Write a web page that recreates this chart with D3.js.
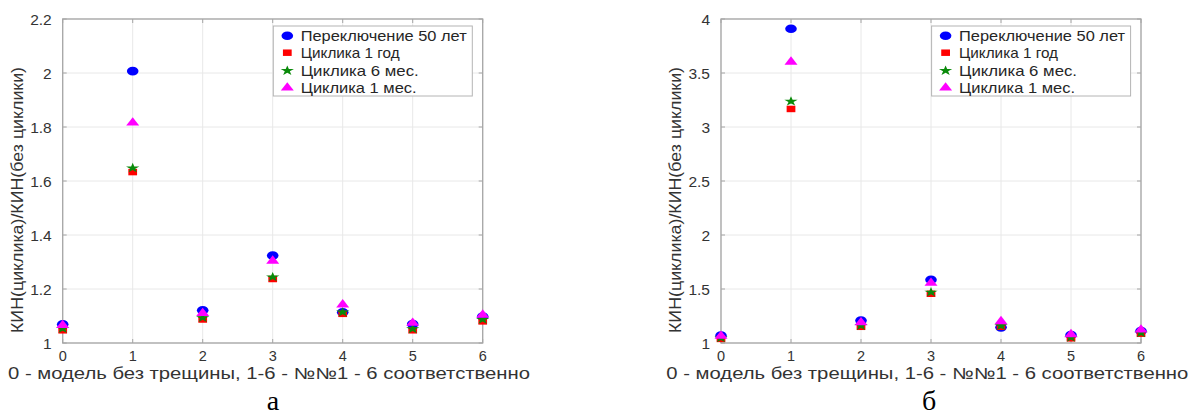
<!DOCTYPE html>
<html>
<head>
<meta charset="utf-8">
<script src="https://cdn.jsdelivr.net/npm/d3@7"></script>
<style>
  html, body { margin: 0; padding: 0; background: #fff; }
  svg { display: block; }
  text { font-family: "Liberation Sans", Arial, sans-serif; }
</style>
</head>
<body>
<svg id="chart" width="1193" height="419"></svg>
<script>
// ---------- data ----------
const categories = [0, 1, 2, 3, 4, 5, 6];
const seriesNames = ["Переключение 50 лет", "Циклика 1 год", "Циклика 6 мес.", "Циклика 1 мес."];
const xTickLabels = ["0", "1", "2", "3", "4", "5", "6"];
const yTicksA = [1, 1.2, 1.4, 1.6, 1.8, 2, 2.2];
const yTickLabelsA = ["1", "1.2", "1.4", "1.6", "1.8", "2", "2.2"];
const yTicksB = [1, 1.5, 2, 2.5, 3, 3.5, 4];
const yTickLabelsB = ["1", "1.5", "2", "2.5", "3", "3.5", "4"];

// panel а
const switchA = [1.069, 2.007, 1.121, 1.324, 1.114, 1.070, 1.098];
const year1A  = [1.047, 1.633, 1.087, 1.237, 1.108, 1.047, 1.080];
const m6A     = [1.053, 1.648, 1.093, 1.244, 1.114, 1.052, 1.087];
const m1A     = [1.066, 1.816, 1.110, 1.304, 1.142, 1.074, 1.104];
// panel б
const switchB = [1.068, 3.910, 1.209, 1.586, 1.145, 1.074, 1.111];
const year1B  = [1.038, 3.167, 1.150, 1.456, 1.150, 1.043, 1.086];
const m6B     = [1.045, 3.237, 1.160, 1.470, 1.158, 1.050, 1.093];
const m1B     = [1.065, 3.603, 1.190, 1.556, 1.200, 1.080, 1.123];

const xLabel = "0 - модель без трещины, 1-6 - №№1 - 6 соответственно";
const yLabel = "КИН(циклика)/КИН(без циклики)";
const panelLabels = ["а", "б"];

// ---------- styles ----------
const colors = ["#0000ff", "#ff0000", "#0a8a0a", "#ff00ff"];
const symbols = [
  d3.symbol().type(d3.symbolCircle).size(58)(),
  d3.symbol().type(d3.symbolSquare).size(42)(),
  d3.symbol().type(d3.symbolStar).size(30)(),
  d3.symbol().type(d3.symbolTriangle).size(40)()
];
const legendWidths = [166, 99, 118, 116];

const svg = d3.select("#chart");

function drawPanel(cfg) {
  const x = d3.scaleLinear().domain([0, 6]).range([cfg.x0, cfg.x0 + 420]);
  const y = d3.scaleLinear().domain(cfg.yDomain).range([343, 19]);
  const g = svg.append("g");
  const [xl, xr] = x.range();
  const [yb, yt] = y.range();

  // grid
  g.append("g").selectAll("line").data(categories).join("line")
    .attr("x1", d => x(d)).attr("x2", d => x(d)).attr("y1", yb).attr("y2", yt)
    .attr("stroke", "#e8e8e8").attr("stroke-width", 1);
  g.append("g").selectAll("line").data(cfg.yTicks).join("line")
    .attr("x1", xl).attr("x2", xr).attr("y1", d => y(d)).attr("y2", d => y(d))
    .attr("stroke", "#e8e8e8").attr("stroke-width", 1);

  // box
  g.append("rect").attr("x", xl).attr("y", yt).attr("width", xr - xl).attr("height", yb - yt)
    .attr("fill", "none").attr("stroke", "#a6a6a6").attr("stroke-width", 1.3);

  // tick marks (inward, all four sides)
  const tl = 4;
  const tg = g.append("g").attr("stroke", "#a6a6a6").attr("stroke-width", 1);
  categories.forEach(d => {
    tg.append("line").attr("x1", x(d)).attr("x2", x(d)).attr("y1", yb).attr("y2", yb - tl);
    tg.append("line").attr("x1", x(d)).attr("x2", x(d)).attr("y1", yt).attr("y2", yt + tl);
  });
  cfg.yTicks.forEach(d => {
    tg.append("line").attr("x1", xl).attr("x2", xl + tl).attr("y1", y(d)).attr("y2", y(d));
    tg.append("line").attr("x1", xr).attr("x2", xr - tl).attr("y1", y(d)).attr("y2", y(d));
  });

  // tick labels
  g.append("g").selectAll("text").data(categories).join("text")
    .attr("x", d => x(d)).attr("y", 360.5)
    .attr("text-anchor", "middle").attr("font-size", 14.5).attr("fill", "#333")
    .text((d, i) => xTickLabels[i]);
  g.append("g").selectAll("text").data(cfg.yTicks).join("text")
    .attr("x", xl - 11).attr("y", d => y(d) + 5.5)
    .attr("text-anchor", "end").attr("font-size", 15.5).attr("fill", "#333")
    .text((d, i) => cfg.yTickLabels[i]);

  // axis labels
  g.append("text").attr("x", xl - 54.7).attr("y", 378.5)
    .attr("font-size", 16).attr("fill", "#333")
    .attr("textLength", 522).attr("lengthAdjust", "spacingAndGlyphs")
    .text(xLabel);
  g.append("text")
    .attr("transform", `translate(${xl - 40},${200}) rotate(-90)`)
    .attr("text-anchor", "middle").attr("font-size", 16.5).attr("fill", "#333")
    .attr("textLength", 266).attr("lengthAdjust", "spacingAndGlyphs")
    .text(yLabel);

  // panel label
  g.append("text").attr("x", cfg.panelX).attr("y", 410)
    .attr("text-anchor", "middle").attr("font-size", 28)
    .style("font-family", "'Liberation Serif', 'Times New Roman', serif")
    .attr("fill", "#000").text(cfg.panel);

  // markers
  cfg.series.forEach((vals, si) => {
    g.append("g").selectAll("path").data(categories).join("path")
      .attr("d", symbols[si])
      .attr("transform", (d, i) => `translate(${x(d)},${y(vals[i])}) scale(1.35,1)`)
      .attr("fill", colors[si]);
  });

  // legend
  const lx = xl + 210.6, ly = 26;
  const lg = g.append("g");
  lg.append("rect").attr("x", lx).attr("y", ly).attr("width", 199).attr("height", 70)
    .attr("fill", "#fff").attr("stroke", "#b4b4b4").attr("stroke-width", 1);
  const rows = [35.7, 52.7, 70.7, 87.7];
  seriesNames.forEach((name, si) => {
    lg.append("path").attr("d", symbols[si])
      .attr("transform", `translate(${lx + 14},${rows[si]}) scale(1.35,1)`)
      .attr("fill", colors[si]);
    lg.append("text").attr("x", lx + 27.4).attr("y", rows[si] + 5.5)
      .attr("font-size", 15).attr("fill", "#262626")
      .attr("textLength", legendWidths[si]).attr("lengthAdjust", "spacingAndGlyphs")
      .text(name);
  });
}

drawPanel({ x0: 62.7, yDomain: [1, 2.2], yTicks: yTicksA, yTickLabels: yTickLabelsA,
  series: [switchA, year1A, m6A, m1A], panel: panelLabels[0], panelX: 273 });
drawPanel({ x0: 721, yDomain: [1, 4], yTicks: yTicksB, yTickLabels: yTickLabelsB,
  series: [switchB, year1B, m6B, m1B], panel: panelLabels[1], panelX: 929 });
</script>
</body>
</html>
